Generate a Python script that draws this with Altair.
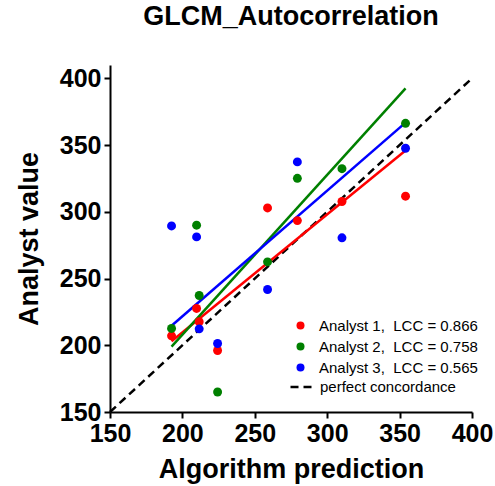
import altair as alt
import pandas as pd

# Algorithm prediction per case and each analyst's measured value
x_pred = [192.5, 209.8, 211.6, 224.3, 258.8, 279.4, 310.2, 354.1]
analyst_1 = [207.1, 227.6, 217.6, 196.1, 302.9, 293.4, 307.7, 311.7]
analyst_2 = [212.6, 290.0, 237.3, 165.0, 262.5, 325.1, 332.3, 366.3]
analyst_3 = [289.4, 281.2, 212.3, 201.3, 241.8, 337.4, 280.5, 347.6]

analysts = ["Analyst 1", "Analyst 2", "Analyst 3"]
lcc = ["0.866", "0.758", "0.565"]
colors = ["#ff0000", "#008000", "#0000ff"]

# fitted line end values at the smallest and largest prediction
fit_x = [192.5, 354.1]
fit_start = [203.0, 199.0, 214.6]
fit_end = [346.0, 392.5, 366.8]

identity = [150, 400]
ticks = [150, 200, 250, 300, 350, 400]

labels = [f"{a},\u00a0 LCC = {v}" for a, v in zip(analysts, lcc)]

rows = []
for lab, vals in zip(labels, [analyst_1, analyst_2, analyst_3]):
    for xv, yv in zip(x_pred, vals):
        rows.append({"x": xv, "y": yv, "series": lab})
points_df = pd.DataFrame(rows)

fit_rows = []
for lab, y0, y1 in zip(labels, fit_start, fit_end):
    fit_rows.append({"x": fit_x[0], "y": y0, "fit": lab})
    fit_rows.append({"x": fit_x[1], "y": y1, "fit": lab})
fit_df = pd.DataFrame(fit_rows)

diag_df = pd.DataFrame({"x": identity, "y": identity, "kind": ["perfect concordance"] * 2})

xs = alt.Scale(domain=[150, 400], nice=False, zero=False)
ys = alt.Scale(domain=[150, 410], nice=False, zero=False)

x_axis = alt.Axis(values=ticks, title="Algorithm prediction", labelFlush=False,
                  titlePadding=10)
y_axis = alt.Axis(values=ticks, title="Analyst value", titlePadding=16)

diag = alt.Chart(diag_df).mark_line(color="black", strokeWidth=2.5).encode(
    x=alt.X("x:Q", scale=xs, axis=x_axis),
    y=alt.Y("y:Q", scale=ys, axis=y_axis),
    strokeDash=alt.StrokeDash(
        "kind:N",
        scale=alt.Scale(domain=["perfect concordance"], range=[[8, 5]]),
        legend=alt.Legend(
            title=None, orient="none", legendX=179, legendY=310,
            symbolSize=441, symbolStrokeWidth=2.5, symbolStrokeColor="black",
            labelFontSize=15, labelFont="Liberation Sans", labelOffset=7,
            labelColor="black", padding=0,
        ),
    ),
)

fits = alt.Chart(fit_df).mark_line(strokeWidth=2.5).encode(
    x=alt.X("x:Q", scale=xs),
    y=alt.Y("y:Q", scale=ys),
    stroke=alt.Stroke("fit:N", scale=alt.Scale(domain=labels, range=colors), legend=None),
)

pts = alt.Chart(points_df).mark_circle(size=80, opacity=1).encode(
    x=alt.X("x:Q", scale=xs),
    y=alt.Y("y:Q", scale=ys),
    color=alt.Color(
        "series:N",
        scale=alt.Scale(domain=labels, range=colors),
        legend=alt.Legend(
            title=None, orient="none", legendX=183, legendY=253,
            symbolSize=64, symbolOpacity=1, symbolType="circle",
            labelFontSize=15, labelFont="Liberation Sans", labelOffset=11,
            labelColor="black", rowPadding=5, padding=0,
        ),
    ),
)

chart = (
    alt.layer(diag, fits, pts)
    .resolve_legend(color="independent", stroke="independent", strokeDash="independent")
    .properties(
        width=362,
        height=347,
        title=alt.TitleParams("GLCM_Autocorrelation", fontSize=27, font="Liberation Sans",
                              fontWeight="bold", anchor="middle", offset=34, color="black"),
        autosize=alt.AutoSizeParams(type="none"),
        padding={"left": 110, "top": 65, "right": 23, "bottom": 74},
    )
    .configure_view(stroke=None)
    .configure_axis(
        grid=False,
        domainColor="black", domainWidth=2,
        tickColor="black", tickWidth=2, tickSize=6,
        labelFont="Liberation Sans", labelFontWeight="bold", labelFontSize=25,
        labelColor="black", labelPadding=3,
        titleFont="Liberation Sans", titleFontWeight="bold", titleFontSize=27,
        titleColor="black",
    )
)

chart.save("out.html", embed_options={"renderer": "svg", "actions": False})
